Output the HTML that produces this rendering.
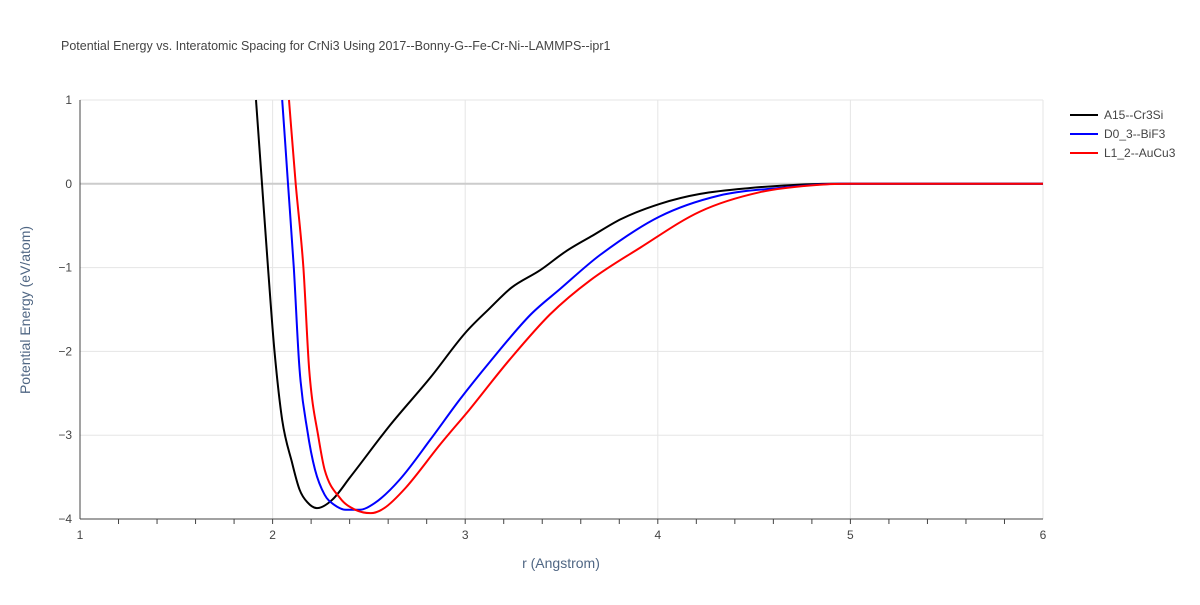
<!DOCTYPE html>
<html><head><meta charset="utf-8"><style>
body{margin:0;background:#fff;font-family:"Liberation Sans",Arial,sans-serif}
svg text{font-family:"Liberation Sans",Arial,sans-serif}
</style></head><body>
<svg id="chart" width="1200" height="600" xmlns="http://www.w3.org/2000/svg">
<rect width="1200" height="600" fill="#fff"/>
<text x="61" y="50" font-size="12.5" fill="#444">Potential Energy vs. Interatomic Spacing for CrNi3 Using 2017--Bonny-G--Fe-Cr-Ni--LAMMPS--ipr1</text>
<g id="grid"></g><g id="axes"></g><g id="series"></g>
<text x="561" y="568" font-size="14" fill="#506784" text-anchor="middle">r (Angstrom)</text>
<text transform="translate(30,310) rotate(-90)" font-size="14" fill="#506784" text-anchor="middle">Potential Energy (eV/atom)</text>
<g id="legend"></g>
</svg>
<script>
const xTicks=[1,2,3,4,5,6];
const yTicks=[1,0,-1,-2,-3,-4];
const seriesNames=["A15--Cr3Si","D0_3--BiF3","L1_2--AuCu3"];
const seriesColors=["#000000","#0000ff","#ff0000"];
const rA15=[1.914,1.945,1.976,2.01,2.05,2.10,2.14,2.18,2.23,2.31,2.40,2.61,2.82,3.0,3.13,3.24,3.39,3.52,3.66,3.81,4.01,4.22,4.48,4.74,4.9,6];
const eA15=[1,0,-1,-2,-2.82,-3.32,-3.65,-3.80,-3.87,-3.77,-3.51,-2.88,-2.31,-1.78,-1.48,-1.24,-1.03,-0.81,-0.62,-0.42,-0.24,-0.12,-0.05,-0.01,0,0];
const rD03=[2.05,2.08,2.11,2.14,2.18,2.22,2.27,2.32,2.38,2.45,2.53,2.66,2.82,2.97,3.13,3.34,3.49,3.70,4.01,4.32,4.63,4.95,6];
const eD03=[1,0,-1,-2.22,-2.94,-3.41,-3.71,-3.83,-3.89,-3.89,-3.81,-3.53,-3.05,-2.58,-2.12,-1.56,-1.26,-0.85,-0.39,-0.14,-0.05,0,0];
const rL12=[2.085,2.12,2.16,2.19,2.24,2.27,2.35,2.43,2.51,2.58,2.69,2.87,3.02,3.23,3.44,3.65,3.91,4.22,4.53,4.79,5.0,6];
const eL12=[1,0,-1,-2.22,-3.05,-3.41,-3.75,-3.89,-3.93,-3.87,-3.63,-3.11,-2.70,-2.10,-1.56,-1.15,-0.76,-0.33,-0.10,-0.02,0,0];
const X0=80,X1=1043,Y0=100,Y1=519;
const sx=v=>X0+(v-1)/(6-1)*(X1-X0);
const sy=v=>Y0+(1-v)/(1-(-4))*(Y1-Y0);
const NS="http://www.w3.org/2000/svg";
function mk(tag,parent,attrs){const e=document.createElementNS(NS,tag);for(const k in attrs)e.setAttribute(k,attrs[k]);document.getElementById(parent).appendChild(e);return e;}
function smoothPath(xs,ys){
 const n=xs.length,d=[],m=[];
 for(let i=0;i<n-1;i++)d.push((ys[i+1]-ys[i])/(xs[i+1]-xs[i]));
 m[0]=d[0];m[n-1]=d[n-2];
 for(let i=1;i<n-1;i++){m[i]=(d[i-1]*d[i]<=0)?0:(d[i-1]+d[i])/2;}
 for(let i=0;i<n-1;i++){if(d[i]===0){m[i]=0;m[i+1]=0;continue;}const a=m[i]/d[i],b=m[i+1]/d[i],s=a*a+b*b;if(s>9){const t=3/Math.sqrt(s);m[i]=t*a*d[i];m[i+1]=t*b*d[i];}}
 let p="M"+xs[0].toFixed(1)+","+ys[0].toFixed(1);
 for(let i=0;i<n-1;i++){const h=(xs[i+1]-xs[i])/3;
  p+="C"+(xs[i]+h).toFixed(1)+","+(ys[i]+m[i]*h).toFixed(1)+" "+(xs[i+1]-h).toFixed(1)+","+(ys[i+1]-m[i+1]*h).toFixed(1)+" "+xs[i+1].toFixed(1)+","+ys[i+1].toFixed(1);}
 return p;
}
xTicks.forEach(t=>{
 const l=mk("line","grid",{x1:sx(t),x2:sx(t),y1:Y0,y2:Y1,stroke:"#e5e5e5","stroke-width":1});
 
 
 const tx=mk("text","axes",{x:sx(t),y:Y1+20,"font-size":12,fill:"#444","text-anchor":"middle"});
 tx.textContent=t;
 
 
});
for(let v=1.2;v<6;v+=0.2){
 const tk=mk("line","axes",{x1:sx(v),x2:sx(v),y1:Y1,y2:Y1+5,stroke:"#444","stroke-width":1});
 
 
}
yTicks.forEach(t=>{
 const l=mk("line","grid",{x1:X0,x2:X1,y1:sy(t),y2:sy(t),stroke:t===0?"#cccccc":"#e5e5e5","stroke-width":t===0?2:1});
 
 
 const tx=mk("text","axes",{x:X0-8,y:sy(t)+4,"font-size":12,fill:"#444","text-anchor":"end"});
 tx.textContent=t===0?"0":(t<0?"\u2212"+(-t):t);
 
 
});
const xa=mk("line","axes",{x1:X0,x2:X1,y1:Y1,y2:Y1,stroke:"#444","stroke-width":1});


const ya=mk("line","axes",{x1:X0,x2:X0,y1:Y0,y2:Y1,stroke:"#444","stroke-width":1});


const data=[[rA15,eA15],[rD03,eD03],[rL12,eL12]];
data.forEach((d,i)=>{
 const p=mk("path","series",{d:smoothPath(d[0].map(sx),d[1].map(sy)),fill:"none",stroke:seriesColors[i],"stroke-width":2,"stroke-linejoin":"round"});
 
 
 const y=115+i*19;
 const ll=mk("line","legend",{x1:1070,x2:1098,y1:y,y2:y,stroke:seriesColors[i],"stroke-width":2});
 
 
 const lt=mk("text","legend",{x:1104,y:y+4,"font-size":12,fill:"#444"});
 lt.textContent=seriesNames[i];
 
 
});
</script>
</body></html>
